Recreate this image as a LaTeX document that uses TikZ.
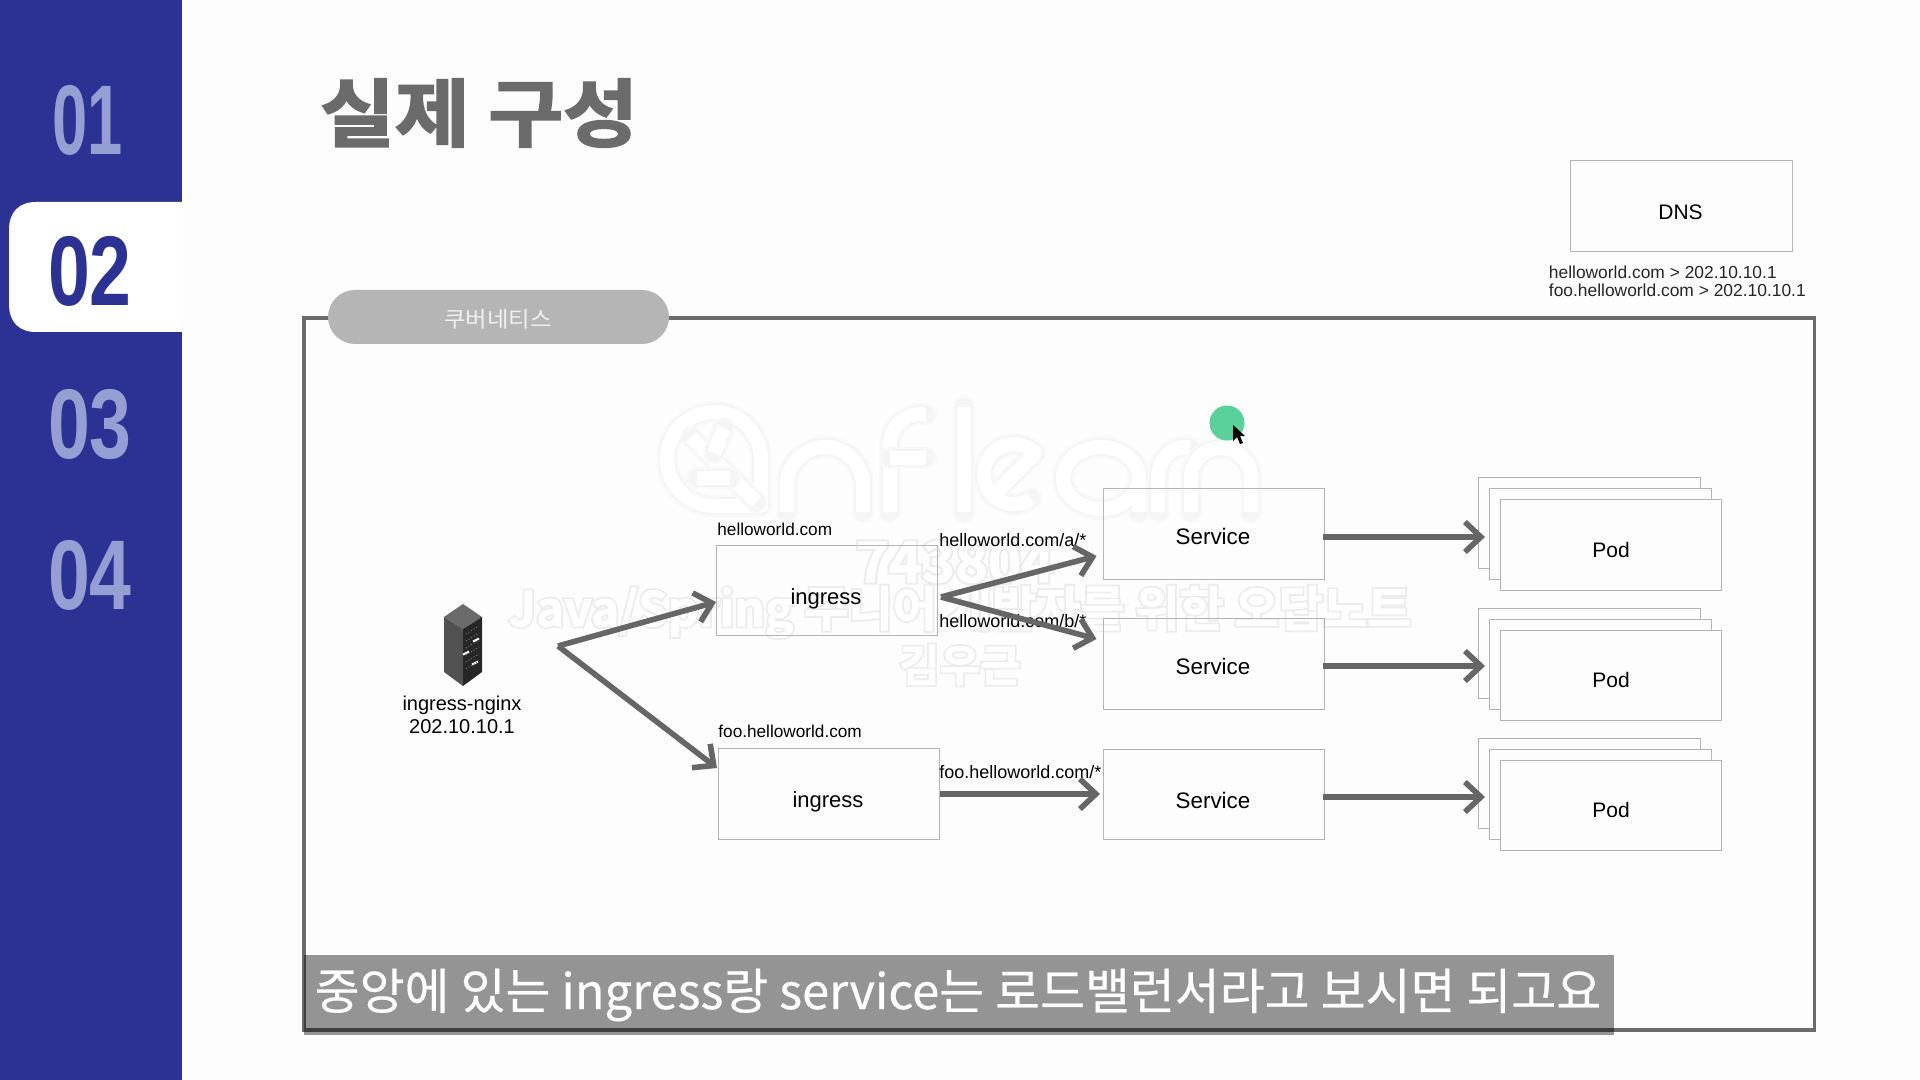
\documentclass[tikz,border=0pt]{standalone}
\usepackage{fontspec}
\usepackage{graphicx}
\usetikzlibrary{arrows.meta,calc}
\setmainfont{Liberation Sans}
\newfontfamily\krfont{Noto Sans CJK KR}
\newfontfamily\krcap[FakeBold=.4]{Noto Sans CJK KR}
\newfontfamily\krblack[FakeBold=2.4]{Noto Sans CJK KR Bold}
\newfontfamily\krwm[FakeBold=1.5]{Noto Sans CJK KR Bold}
\newfontfamily\krhalo[FakeBold=9]{Noto Sans CJK KR Bold}
\definecolor{navy}{HTML}{2B3293}
\definecolor{numpale}{HTML}{959FD3}
\definecolor{inkgrey}{HTML}{6B6B6B}
\definecolor{arrowgrey}{HTML}{666666}
\definecolor{edgegrey}{HTML}{B4B4B4}
\definecolor{pillgrey}{HTML}{B5B5B5}
\definecolor{pagebg}{HTML}{FDFDFD}
\definecolor{dotgreen}{HTML}{5AD09A}
\definecolor{haloa}{HTML}{F9F9F9}
\definecolor{halob}{HTML}{F5F5F5}
\definecolor{haloc}{HTML}{ECECEC}
\tikzset{
  x=0.5pt,y=-0.5pt,
  boxs/.style={draw=edgegrey,line width=0.5pt,fill=pagebg,inner sep=0pt},
  lbl/.style={inner sep=0pt,text=black,align=center},
  arr/.style={-{Straight Barb[length=8pt,width=15pt,line width=2.8pt]},line width=2.8pt,draw=arrowgrey},
  num/.style={inner sep=0pt,font=\fontsize{49.5}{50}\selectfont\bfseries},
}
\newcommand\bx[6][]{%
  \node[boxs,#1,minimum width={(#5-#3)*0.5pt},minimum height={(#6-#4)*0.5pt}] (#2) at ({(#3+#5)/2},{(#4+#6)/2}) {};}
\newcommand\halotext[5]{% name, x, y, size, text
  \node[inner sep=0pt,text=haloc,font=\krhalo\fontsize{#4}{#4}\selectfont] (#1h) at (#2,#3) {#5};
  \node[inner sep=0pt,text=white,font=\krwm\fontsize{#4}{#4}\selectfont] (#1) at (#2,#3) {#5};}
\newcommand\wmstroke[1]{%
  \draw[haloa,line width=11pt,line cap=round,line join=round] #1;
  \draw[halob,line width=9pt,line cap=round,line join=round] #1;
  \draw[white,line width=7pt,line join=round] #1;}
\begin{document}
\begin{tikzpicture}
\useasboundingbox (0,0) rectangle (1920,1080);
\fill[pagebg] (0,0) rectangle (1920,1080);
% sidebar
\fill[navy] (0,0) rectangle (182,1080);
\fill[white] (182,202) -- (36,202) .. controls (19,202) and (9,212) .. (9,230) -- (9,304) .. controls (9,322) and (19,332) .. (36,332) -- (182,332) -- cycle;
\node[num,text=numpale] (n1) at (88,120) {\scalebox{.64}[1]{01}};
\node[num,text=navy] (n2) at (90,271) {\scalebox{.76}[1]{02}};
\node[num,text=numpale] (n3) at (90,424) {\scalebox{.76}[1]{03}};
\node[num,text=numpale] (n4) at (90,575) {\scalebox{.76}[1]{04}};
% title
\node[inner sep=0pt,text=inkgrey,font=\krblack\fontsize{37}{40}\selectfont] (title) at (479,113) {\scalebox{1.1}[1]{실제 구성}};
% DNS
\bx{dns}{1570}{161}{1792}{252}
\node[lbl,font=\fontsize{10.5}{12}\selectfont] (dnst) at (1680.5,212) {DNS};
\node[lbl,anchor=west,font=\fontsize{8.7}{9}\selectfont,text=black!85] (d1) at (1548.5,272) {helloworld.com > 202.10.10.1};
\node[lbl,anchor=west,font=\fontsize{8.7}{9}\selectfont,text=black!85] (d2) at (1548.5,290) {foo.helloworld.com > 202.10.10.1};
% frame
\draw[inkgrey,line width=1.7pt] (304,318) rectangle (1814.5,1030);
\node[fill=pillgrey,rounded corners=13.5pt,inner sep=0pt,minimum width=170.5pt,minimum height=27pt] (pill) at (498.5,317) {};
\node[inner sep=0pt,text=white!94!black,font=\krfont\fontsize{11}{12}\selectfont] (pillt) at (498,319) {\scalebox{1.06}[1]{쿠버네티스}};
% watermark (under the diagram)
\wmstroke{(761,506) -- (714,506) arc (90:360:47) -- cycle}
\wmstroke{(691,437) -- (756,502)}
\wmstroke{(724,428) -- (714,453)}
\wmstroke{(697,478) -- (730,478)}
\wmstroke{(787,512) -- (787,485) arc (180:360:38) -- (863,512)}
\wmstroke{(890,512) -- (890,445) arc (180:270:31) -- (926,414)}
\wmstroke{(890,458) -- (926,458)}
\wmstroke{(964,407) -- (964,512)}
\wmstroke{(995,494) -- (1035,453) arc (-45:-305:30)}
\wmstroke{(1139,512) -- (1139,478) arc [start angle=0,end angle=-360,x radius=38,y radius=31]}
\wmstroke{(1158,512) -- (1158,478) arc [start angle=180,end angle=280,x radius=27,y radius=31]}
\wmstroke{(1191,512) -- (1191,478) arc (180:360:30) -- (1251,512)}
\halotext{w1}{955}{562}{28}{743804}
\halotext{w2}{960}{612}{24}{Java/Spring 주니어 개발자를 위한 오답노트}
\halotext{w3}{960}{665}{22}{김우근}
% boxes
\bx[fill=none]{ing1}{716}{545}{937}{635}
\bx[fill=none]{ing2}{718}{748}{939}{839}
\bx[fill=none]{svc1}{1103}{488}{1324}{579}
\bx[fill=none]{svc2}{1103}{618}{1324}{709}
\bx[fill=none]{svc3}{1103}{749}{1324}{839}
\bx{pa3}{1478}{477}{1700}{568}
\bx{pa2}{1489}{488}{1711}{579}
\bx{pa1}{1500}{499}{1721.5}{590}
\bx{pb3}{1478}{608}{1700}{698}
\bx{pb2}{1489}{619}{1711}{709}
\bx{pb1}{1500}{630}{1721.5}{720}
\bx{pc3}{1478}{738}{1700}{828}
\bx{pc2}{1489}{749}{1711}{839}
\bx{pc1}{1500}{760}{1721.5}{850}
% box labels
\node[lbl,font=\fontsize{11}{12}\selectfont] (it1) at (826,598.5) {ingress};
\node[lbl,font=\fontsize{11}{12}\selectfont] (it2) at (828,802) {ingress};
\node[lbl,font=\fontsize{11.2}{12}\selectfont] (st1) at (1213,536) {Service};
\node[lbl,font=\fontsize{11.2}{12}\selectfont] (st2) at (1213,666) {Service};
\node[lbl,font=\fontsize{11.2}{12}\selectfont] (st3) at (1213,800) {Service};
\node[lbl,font=\fontsize{10.5}{12}\selectfont] (pt1) at (1611,550) {Pod};
\node[lbl,font=\fontsize{10.5}{12}\selectfont] (pt2) at (1611,680) {Pod};
\node[lbl,font=\fontsize{10.5}{12}\selectfont] (pt3) at (1611,810) {Pod};
% small labels
\node[lbl,anchor=west,font=\fontsize{8.6}{10}\selectfont] (l1) at (717,529) {helloworld.com};
\node[lbl,anchor=west,font=\fontsize{8.6}{10}\selectfont] (l2) at (718,731) {foo.helloworld.com};
\node[lbl,anchor=west,font=\fontsize{9}{10}\selectfont] (l3) at (939,540) {helloworld.com/a/*};
\node[lbl,anchor=west,font=\fontsize{9}{10}\selectfont] (l4) at (939,621) {helloworld.com/b/*};
\node[lbl,anchor=west,font=\fontsize{9}{10}\selectfont] (l5) at (939,772) {foo.helloworld.com/*};
\node[lbl,font=\fontsize{10}{11.2}\selectfont] (nginx) at (462,715) {ingress-nginx\\202.10.10.1};
% server
\fill[black!58] (463,604) -- (482,617) -- (463,629) -- (444,617) -- cycle;
\fill[black!68] (444,617) -- (463,629) -- (463,686) -- (444,672) -- cycle;
\fill[black!85] (482,617) -- (463,629) -- (463,686) -- (482,672) -- cycle;
\foreach \yy/\xx in {640/476,653/466,663/475}{\draw[white,line width=1pt] (\xx-3,\yy+1.5) -- (\xx+3,\yy-1.5);}
\foreach \yy in {630,637,...,665}{\draw[black!55,line width=.5pt,densely dotted] (466,\yy+4) -- (479,\yy-4);}
% connectors
\coordinate (src) at (558,646);
\coordinate (fork) at (941,597);
\coordinate (t1) at (716,602);
\coordinate (t2) at (717,768);
\coordinate (t3) at (1096.5,556);
\coordinate (t4) at (1096.5,639);
\coordinate (f5) at (940,794);
\coordinate (t5) at (1100,794);
\coordinate (f6) at (1323,537);\coordinate (t6) at (1485,537);
\coordinate (f7) at (1323,666);\coordinate (t7) at (1485,666);
\coordinate (f8) at (1323,797);\coordinate (t8) at (1485,797);
\draw[arr] (src) -- (t1);
\draw[arr] (src) -- (t2);
\draw[arr] (fork) -- (t3);
\draw[arr] (fork) -- (t4);
\draw[arr] (f5) -- (t5);
\draw[arr] (f6) -- (t6);
\draw[arr] (f7) -- (t7);
\draw[arr] (f8) -- (t8);
% pointer
\fill[dotgreen] (1227,423) circle (17.5);
\fill[black] (1233,425) -- (1233,441) -- (1237,437) -- (1240,444) -- (1243,443) -- (1240,436) -- (1245,436) -- cycle;
% caption
\fill[black,opacity=.41] (304,955) rectangle (1614,1035);
\node[inner sep=0pt,text=white,font=\krcap\fontsize{24.5}{26}\selectfont] (cap) at (958,995) {\scalebox{.997}[1]{중앙에 있는 ingress랑 service는 로드밸런서라고 보시면 되고요}};
\end{tikzpicture}
\end{document}
